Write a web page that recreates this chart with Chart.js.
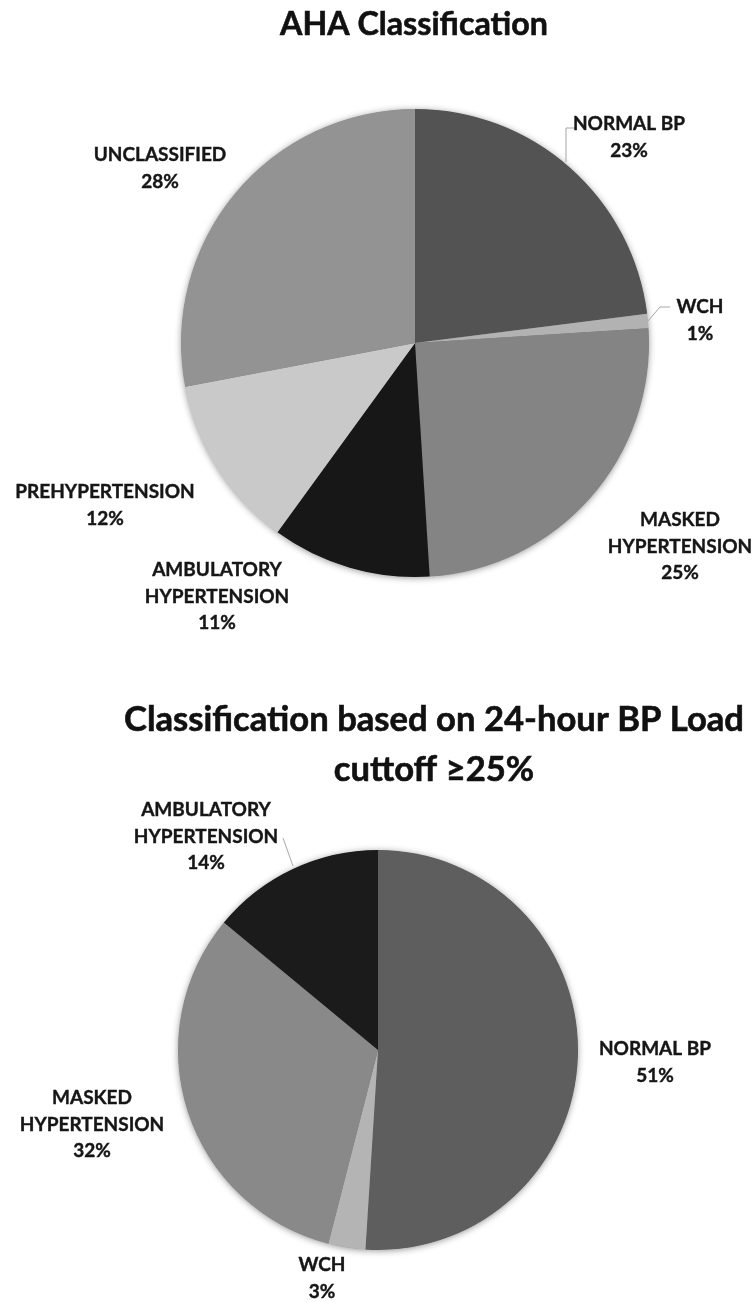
<!DOCTYPE html>
<html><head><meta charset="utf-8">
<script src="https://cdn.jsdelivr.net/npm/chart.js@4.4.0/dist/chart.umd.min.js"></script>
<style>
html,body{margin:0;padding:0;background:#fff;width:756px;height:1302px;overflow:hidden}
canvas{position:absolute;left:0}
#c1{top:0}
#c2{top:680px}
</style></head><body>
<canvas id="c1" width="756" height="680"></canvas>
<canvas id="c2" width="756" height="622"></canvas>
<script>
// ---- data ----
const ahaTitle = ['AHA Classification'];
const ahaCategories = ['NORMAL BP', 'WCH', 'MASKED HYPERTENSION', 'AMBULATORY HYPERTENSION', 'PREHYPERTENSION', 'UNCLASSIFIED'];
const ahaValues = [23, 1, 25, 11, 12, 28];
const ahaColors = ['#535353', '#b2b2b2', '#848484', '#171717', '#c9c9c9', '#939393'];

const loadTitle = ['Classification based on 24-hour BP Load', 'cuttoff \u226525%'];
const loadCategories = ['NORMAL BP', 'WCH', 'MASKED HYPERTENSION', 'AMBULATORY HYPERTENSION'];
const loadValues = [51, 3, 32, 14];
const loadColors = ['#5e5e5e', '#b4b4b4', '#898989', '#1b1b1b'];

// ---- layout (positions in canvas pixels) ----
const FONT = 'Lato, "DejaVu Sans", sans-serif';
const ahaLayout = {
  title: {cx: 414, baselines: [35], width: 268},
  labels: [
    {x: 629, y: 124, wrap: false},
    {x: 700, y: 307, wrap: false},
    {x: 680, y: 520, wrap: true},
    {x: 217, y: 570, wrap: true},
    {x: 105, y: 492, wrap: false},
    {x: 160, y: 155, wrap: false}
  ],
  leaders: [
    [[575, 128], [566, 128], [566, 162]],
    [[670, 307], [660, 307], [648, 321]]
  ],
  padding: {left: 100, right: 26, top: 60, bottom: 54},
  radius: 234
};
const loadLayout = {
  title: {cx: 434, baselines: [51, 101], width: 620},
  labels: [
    {x: 655, y: 369, wrap: false},
    {x: 322, y: 585, wrap: false},
    {x: 92, y: 418, wrap: true},
    {x: 206, y: 130, wrap: true}
  ],
  leaders: [
    [[283, 158], [293, 186]]
  ],
  padding: {left: 50, right: 50, top: 140, bottom: 22},
  radius: 200
};

function labelLines(name, value, wrap) {
  const lines = wrap ? name.split(' ') : [name];
  lines.push(value + '%');
  return lines;
}

function heavyText(ctx, t, x, y, sw) {
  ctx.fillText(t, x, y);
  ctx.lineWidth = sw;
  ctx.strokeText(t, x, y);
}

function decor(categories, values, layout, titleLines) {
  return {
    id: 'decor',
    beforeDatasetsDraw(chart) {
      const arc = chart.getDatasetMeta(0).data[0];
      const ctx = chart.ctx;
      ctx.save();
      ctx.shadowColor = 'rgba(0,0,0,0.45)';
      ctx.shadowBlur = 7;
      ctx.shadowOffsetY = 1;
      ctx.fillStyle = '#777';
      ctx.beginPath();
      ctx.arc(arc.x, arc.y, arc.outerRadius - 0.5, 0, Math.PI * 2);
      ctx.fill();
      ctx.restore();
    },
    afterDatasetsDraw(chart) {
      const ctx = chart.ctx;
      ctx.save();
      // title
      ctx.fillStyle = '#111';
      ctx.strokeStyle = '#111';
      ctx.textAlign = 'center';
      ctx.textBaseline = 'alphabetic';
      ctx.font = 'bold 100px ' + FONT;
      const w = ctx.measureText(titleLines[0]).width;
      const size = 100 * layout.title.width / w;
      ctx.font = 'bold ' + size.toFixed(2) + 'px ' + FONT;
      titleLines.forEach((t, i) => heavyText(ctx, t, layout.title.cx, layout.title.baselines[i], 0.6));
      // leader lines
      ctx.strokeStyle = '#a6a6a6';
      ctx.lineWidth = 1;
      layout.leaders.forEach(pts => {
        ctx.beginPath();
        pts.forEach((p, i) => i ? ctx.lineTo(p[0], p[1]) : ctx.moveTo(p[0], p[1]));
        ctx.stroke();
      });
      // labels
      ctx.fillStyle = '#161616';
      ctx.strokeStyle = '#161616';
      ctx.font = 'bold 19px ' + FONT;
      ctx.textBaseline = 'middle';
      categories.forEach((c, i) => {
        const L = layout.labels[i];
        labelLines(c, values[i], L.wrap).forEach((t, j) => heavyText(ctx, t, L.x, L.y + j * 26.5, 0.4));
      });
      ctx.restore();
    }
  };
}

function makePie(id, categories, values, colors, layout, titleLines) {
  return new Chart(document.getElementById(id), {
    type: 'pie',
    data: {
      labels: categories,
      datasets: [{data: values, backgroundColor: colors, borderWidth: 0, hoverOffset: 0, offset: 0}]
    },
    options: {
      responsive: false,
      animation: false,
      devicePixelRatio: 1,
      radius: layout.radius,
      layout: {padding: layout.padding},
      events: [],
      plugins: {legend: {display: false}, tooltip: {enabled: false}, title: {display: false}}
    },
    plugins: [decor(categories, values, layout, titleLines)]
  });
}

makePie('c1', ahaCategories, ahaValues, ahaColors, ahaLayout, ahaTitle);
makePie('c2', loadCategories, loadValues, loadColors, loadLayout, loadTitle);
</script>
</body></html>
